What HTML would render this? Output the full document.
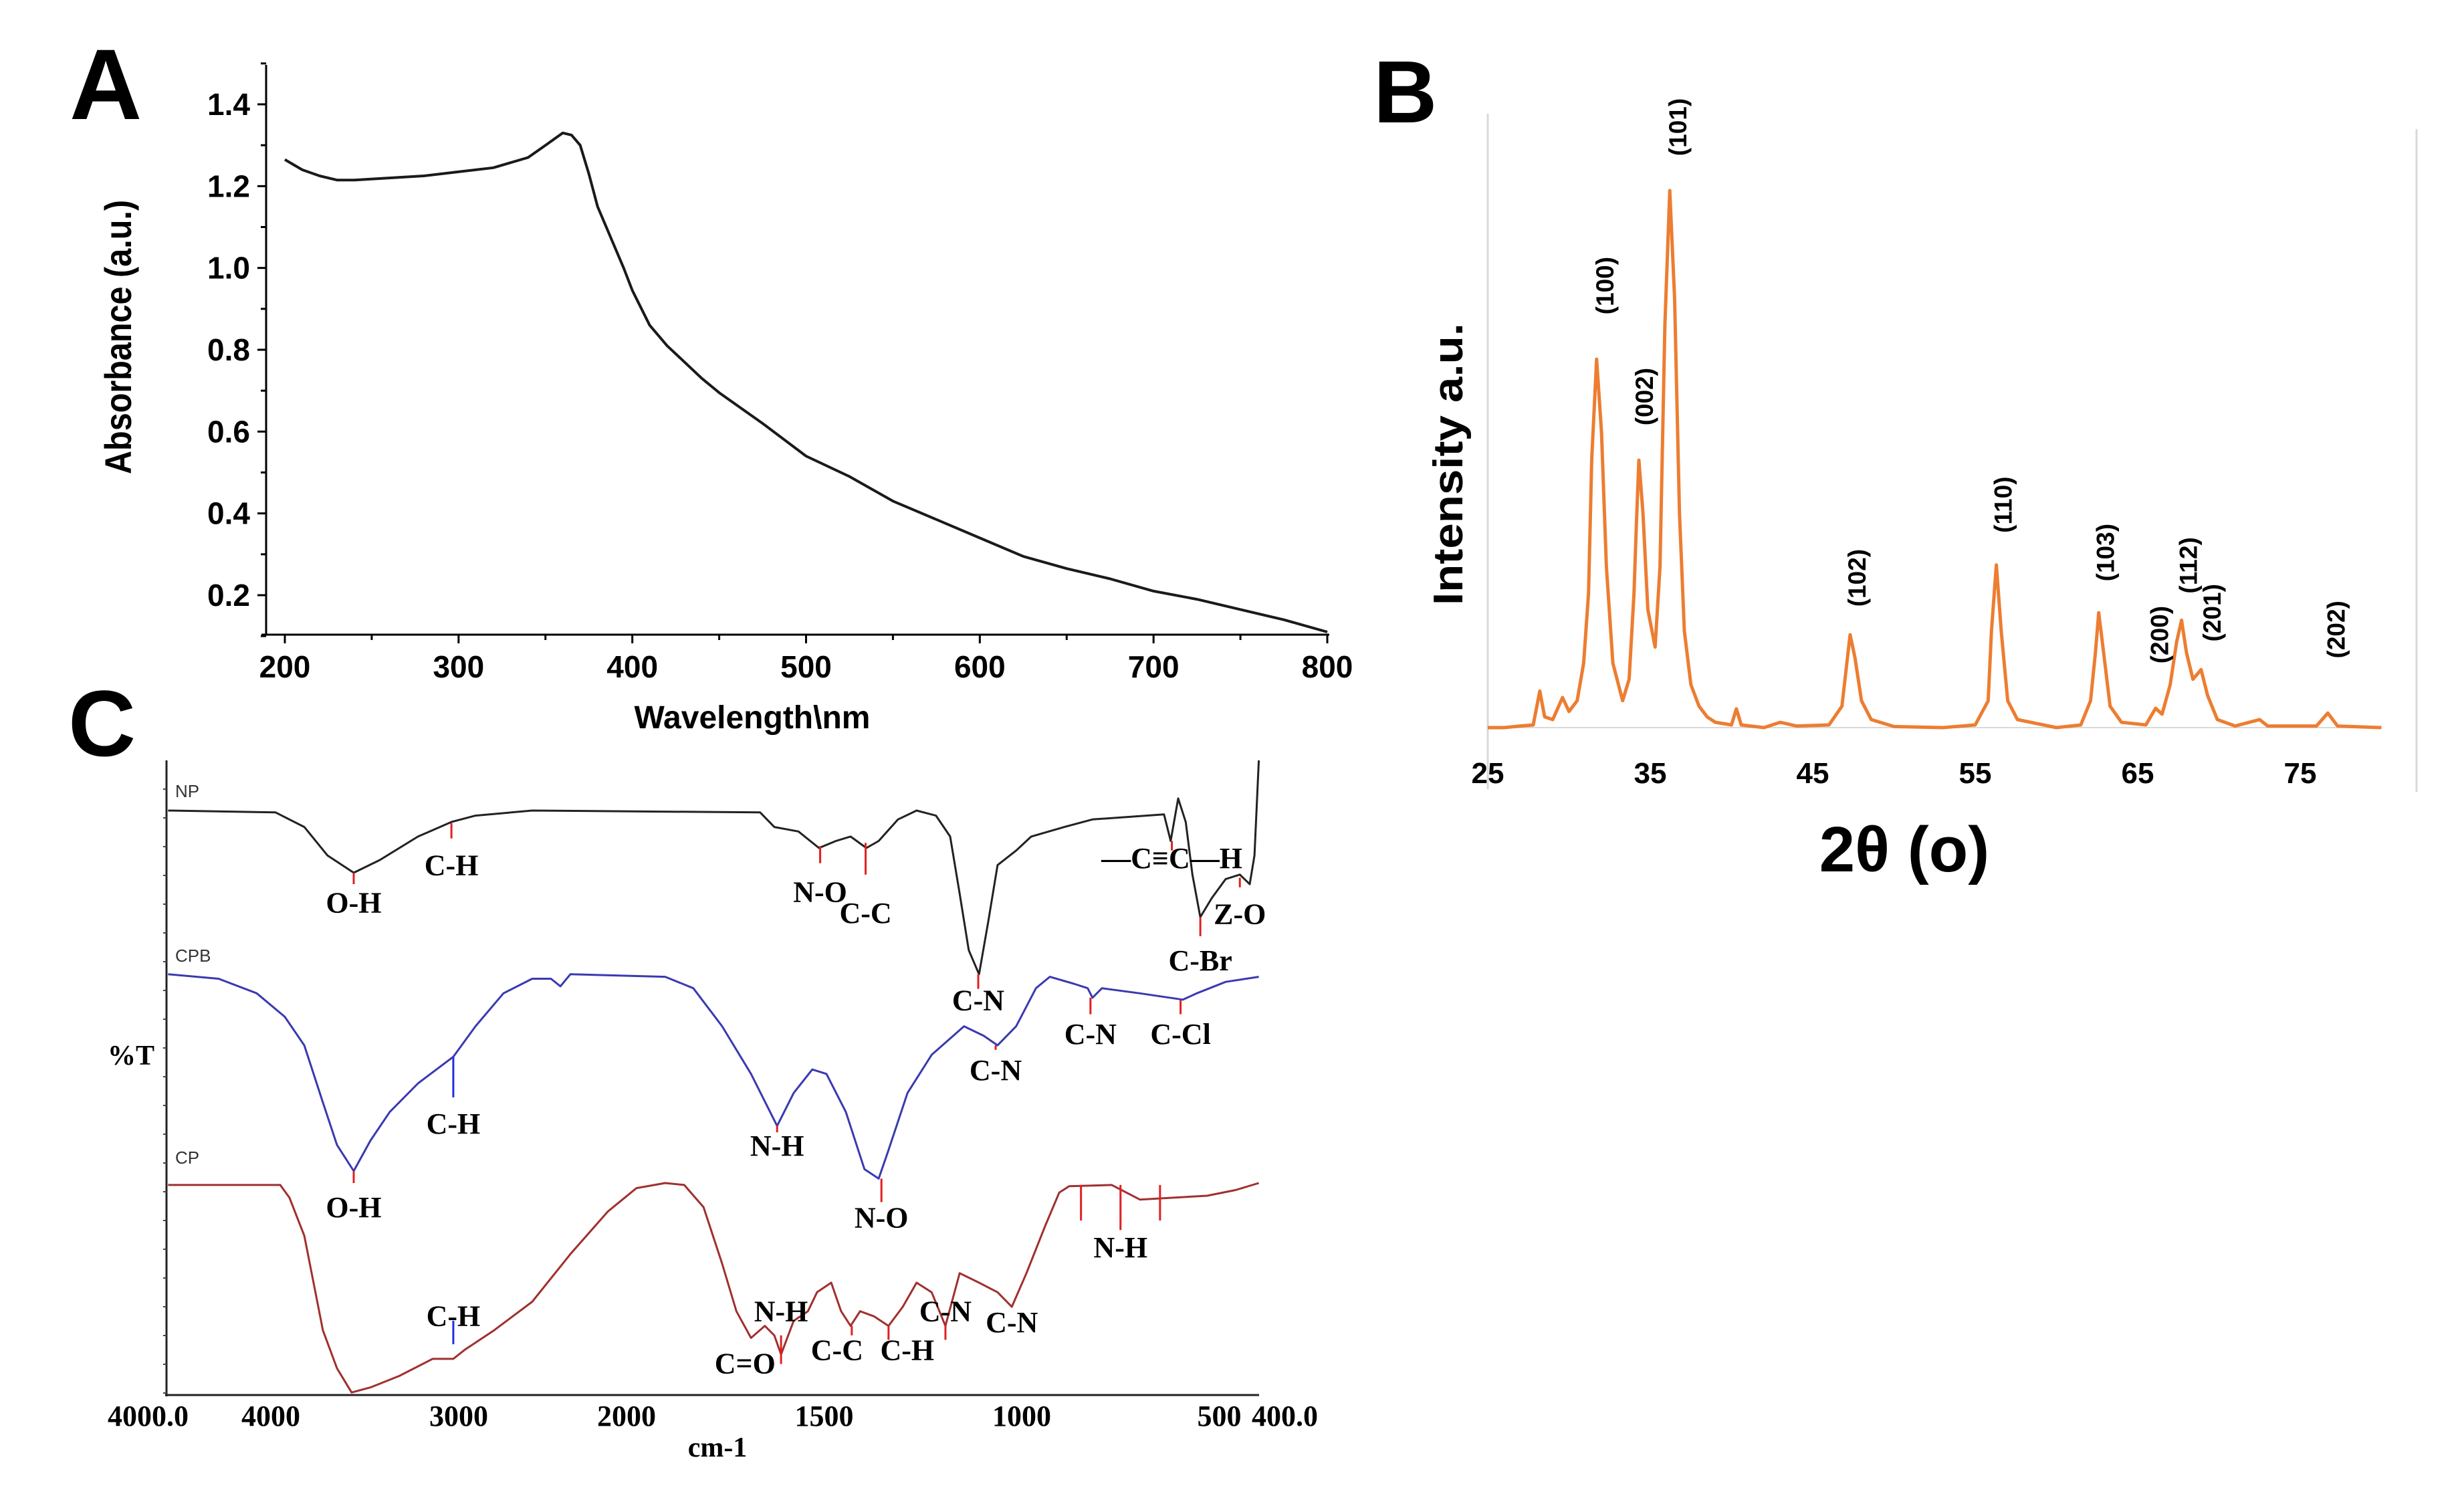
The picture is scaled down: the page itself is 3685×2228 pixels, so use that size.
<!DOCTYPE html>
<html><head><meta charset="utf-8"><style>
html,body{margin:0;padding:0;background:#fff;}
svg{display:block;}
text{font-family:"Liberation Sans",sans-serif;}
.serif{font-family:"Liberation Serif",serif;font-weight:bold;}
</style></head><body>
<svg id="fig" xmlns="http://www.w3.org/2000/svg" width="3685" height="2228" viewBox="0 0 3685 2228">
<rect width="3685" height="2228" fill="#fff"/>
<text x="104" y="178" font-size="150" font-weight="bold">A</text>
<text x="2054" y="183" font-size="132" font-weight="bold">B</text>
<text x="102" y="1130" font-size="140" font-weight="bold">C</text>
<g id="pa"></g>
<g id="pb"></g>
<g id="pc"></g>
</svg>
<script>
// ---------- Panel A data (UV-Vis) ----------
const uvWavelength=[200,210,220,230,240,260,280,300,320,340,350,355,360,365,370,375,380,385,390,395,400,410,420,430,440,450,475,500,525,550,575,600,625,650,675,700,725,750,775,800];
const uvAbsorbance=[1.265,1.24,1.225,1.215,1.215,1.22,1.225,1.235,1.245,1.27,1.3,1.315,1.33,1.325,1.3,1.23,1.15,1.1,1.05,1.0,0.945,0.86,0.81,0.77,0.73,0.695,0.62,0.54,0.49,0.43,0.385,0.34,0.295,0.265,0.24,0.21,0.19,0.165,0.14,0.11];
const uvXTicks=[200,300,400,500,600,700,800];
const uvYTicks=[0.2,0.4,0.6,0.8,1.0,1.2,1.4];

// ---------- Panel B data (XRD) ----------
const xrdTheta=[25,26,27,27.8,28.2,28.5,29,29.6,30,30.5,30.9,31.2,31.4,31.7,32.0,32.3,32.7,33.3,33.7,34.0,34.15,34.3,34.55,34.85,35.3,35.6,35.9,36.2,36.5,36.8,37.1,37.5,38,38.5,39,40,40.3,40.6,42,43,44,46,46.8,47.1,47.3,47.6,48.0,48.6,50,53,55,55.8,56.0,56.3,56.6,57.0,57.6,60,61.5,62.1,62.4,62.6,62.9,63.3,64.0,65.5,66.1,66.5,67.0,67.4,67.7,68.0,68.4,68.9,69.3,69.9,71,72.5,73,76,76.7,77.3,80];
const xrdIntensity=[0,0,0.3,0.5,6.8,2,1.5,5.6,3,5,12,25,50,68.6,55,30,12,5,9,25,38,49.8,40,22,15,30,75,100,80,40,18,8,4,2,1,0.5,3.5,0.5,0,1,0.3,0.5,4,12,17.3,13,5,1.5,0.2,0,0.5,5,18,30.3,18,5,1.5,0,0.5,5,14,21.4,14,4,1,0.5,3.6,2.5,8,16,20,14,9,10.8,6,1.5,0.3,1.5,0.3,0.3,2.7,0.3,0];
const xrdXTicks=[25,35,45,55,65,75];
const xrdPeakLabels=["(100)","(002)","(101)","(102)","(110)","(103)","(200)","(112)","(201)","(202)"];
const xrdPeakPos=[31.7,34.3,36.2,47.3,56.3,62.6,66.1,67.7,68.9,76.7];
const xrdPeakHeight=[68.6,49.8,100,17.3,30.3,21.4,3.6,20,10.8,2.7];

// ---------- Panel C data (FTIR) ----------
const npWavenumber=[4440,3868,3715,3591,3452,3313,3110,2932,2804,2502,1662,1626,1565,1513,1470,1433,1393,1362,1313,1266,1217,1181,1157,1134,1108,1085,1061,1014,976,892,821,640,623,604,585,568,548,519,484,448,423,411,400];
const npTransmittance=[92.1,91.8,89.5,85.0,82.3,84.3,88.0,90.3,91.3,92.1,91.8,89.5,88.8,86.2,87.3,88.0,86.2,87.3,90.7,92.1,91.3,88.0,79.0,70.1,66.3,74.5,83.5,85.8,88.0,89.5,90.7,91.5,87.3,94.0,90.3,82.0,75.3,78.3,81.3,82.0,80.5,85.0,100];
const cpbWavenumber=[4440,4171,3968,3819,3715,3616,3541,3452,3363,3260,3110,2922,2804,2655,2502,2402,2352,2299,1902,1831,1758,1685,1619,1577,1530,1494,1445,1398,1362,1337,1289,1228,1146,1096,1061,1014,964,929,868,833,821,797,701,592,557,484,400];
const cpbTransmittance=[66.3,65.6,63.3,59.6,55.1,46.1,39.4,35.3,40.1,44.6,49.1,53.3,58.1,63.3,65.6,65.6,64.4,66.3,65.9,64.1,58.1,50.6,42.4,47.6,51.3,50.6,44.6,35.6,34.1,38.6,47.6,53.6,58.1,56.6,55.1,58.1,64.1,65.9,64.8,64.1,62.6,64.1,63.3,62.3,63.3,65.1,65.9];
const cpWavenumber=[4440,3843,3794,3715,3616,3541,3463,3363,3210,3032,2922,2858,2705,2502,2299,2100,1975,1902,1854,1805,1758,1722,1685,1650,1626,1609,1577,1541,1518,1482,1457,1433,1409,1374,1337,1301,1266,1228,1193,1157,1108,1061,1025,988,941,905,880,772,701,531,459,400];
const cpTransmittance=[33.1,33.1,31.1,25.1,10.2,4.2,0.4,1.2,3.0,5.7,5.7,7.2,10.2,14.7,22.2,28.9,32.6,33.4,33.1,29.6,20.7,13.2,9.0,10.9,9.4,6.4,11.7,13.2,16.2,17.7,13.2,10.9,13.2,12.4,10.9,13.9,17.7,16.2,10.9,19.2,17.7,16.2,13.9,19.2,26.6,31.9,32.9,33.1,30.8,31.4,32.3,33.4];
const ftirTickLabels=["4000","3000","2000","1500","1000","500"];
const ftirTickValues=[4000,3000,2000,1500,1000,500];
// annotations
const annLabels=["O-H","C-H","N-O","C-C","C-N","\u2014C\u2261C\u2014H","C-Br","Z-O","O-H","C-H","N-H","N-O","C-N","C-N","C-Cl","C-H","C=O","N-H","C-C","C-H","C-N","C-N","N-H"];
const annWavenumber=[3452,2932,1510,1395,1110,620,548,448,3452,2922,1619,1355,1066,826,598,2922,1700,1609,1430,1337,1193,1025,750];
const annTop=[82.3,90.1,86.5,87.0,66.3,87.3,75.3,81.5,35.3,53.3,42.4,34.1,55.1,62.6,62.3,11.7,0,9.4,10.9,10.9,10.9,0,33.1];
const annBottom=[80.5,87.7,83.8,82.0,64.0,85.8,72.3,80.0,33.4,46.9,41.4,30.4,54.4,60.0,60.0,8.0,0,4.9,9.4,8.7,8.7,0,26.0];
const annTextV=[77.6,83.5,79.3,76.0,62.2,84.6,68.5,75.8,29.6,42.8,39.3,28.0,51.2,56.9,56.9,12.5,5.0,13.2,7.1,7.1,13.2,11.5,23.3];
const annColor=["r","r","r","r","r","r","r","r","r","b","r","r","r","r","r","b","n","r","r","r","r","n","r"];
const annDx=[0,0,0,0,0,0,0,0,0,0,0,0,0,0,0,0,0,0,-22,28,0,0,0];

const NS="http://www.w3.org/2000/svg";
function mk(parent,tag,attrs){const e=document.createElementNS(NS,tag);for(const k in attrs)e.setAttribute(k,attrs[k]);parent.appendChild(e);return e;}
function pathFrom(xs,ys,fx,fy){let d="";for(let i=0;i<xs.length;i++){d+=(i?"L":"M")+fx(xs[i]).toFixed(1)+","+fy(ys[i]).toFixed(1);}return d;}

// ===== Panel A =====
(function(){
const g=document.getElementById('pa');
const ax=v=>426+(v-200)*(1985-426)/600;
const ay=v=>890-(v-0.2)*(890-156)/1.2;
let e=mk(g,'line',{x1:398,y1:97,x2:398,y2:949,stroke:'#000','stroke-width':3});

e=mk(g,'line',{x1:391,y1:949,x2:1988,y2:949,stroke:'#000','stroke-width':3});

for(let v=200;v<=800;v+=50){const t=mk(g,'line',{x1:ax(v),y1:949,x2:ax(v),y2:949+(v%100?8:13),stroke:'#000','stroke-width':3});
}
for(let v=0.1;v<=1.501;v+=0.1){const t=mk(g,'line',{x1:398,y1:ay(v),x2:398-(Math.round(v*10)%2?8:13),y2:ay(v),stroke:'#000','stroke-width':3});
}
uvXTicks.forEach(v=>{const t=mk(g,'text',{x:ax(v),y:1013,'font-size':46,'font-weight':'bold','text-anchor':'middle'});t.textContent=v;
});
uvYTicks.forEach(v=>{const t=mk(g,'text',{x:374,y:ay(v)+16,'font-size':46,'font-weight':'bold','text-anchor':'end'});t.textContent=v.toFixed(1);
});
let t=mk(g,'text',{x:1125,y:1089,'font-size':48,'font-weight':'bold','text-anchor':'middle'});t.textContent='Wavelength\\nm';

t=mk(g,'text',{x:0,y:0,'font-size':56,'font-weight':'bold','text-anchor':'middle',transform:'translate(196,504) rotate(-90)',textLength:410,lengthAdjust:'spacingAndGlyphs'});t.textContent='Absorbance (a.u.)';

const p=mk(g,'path',{d:pathFrom(uvWavelength,uvAbsorbance,ax,ay),fill:'none',stroke:'#1a1a1a','stroke-width':4,'stroke-linejoin':'round'});

})();

// ===== Panel B =====
(function(){
const g=document.getElementById('pb');
const bx=v=>2225+(v-25)*24.3;
const by=v=>1088-v*8.03;
let e=mk(g,'line',{x1:2225,y1:170,x2:2225,y2:1180,stroke:'#d9d9d9','stroke-width':3});

e=mk(g,'line',{x1:3614,y1:193,x2:3614,y2:1184,stroke:'#d9d9d9','stroke-width':3});

e=mk(g,'line',{x1:2225,y1:1088,x2:3560,y2:1088,stroke:'#d9d9d9','stroke-width':2});

xrdXTicks.forEach(v=>{const t=mk(g,'text',{x:bx(v),y:1171,'font-size':44,'font-weight':'bold','text-anchor':'middle'});t.textContent=v;
});
let t=mk(g,'text',{x:0,y:0,'font-size':62,'font-weight':'bold','text-anchor':'middle',transform:'translate(2187,694) rotate(-90)',textLength:422,lengthAdjust:'spacingAndGlyphs'});t.textContent='Intensity a.u.';

t=mk(g,'text',{x:2848,y:1303,'font-size':96,'font-weight':'bold','text-anchor':'middle'});t.textContent='2\u03B8 (o)';

const p=mk(g,'path',{d:pathFrom(xrdTheta,xrdIntensity,bx,by),fill:'none',stroke:'#ED7D31','stroke-width':5,'stroke-linejoin':'round'});

const off=[110,95,95,85,90,90,90,82,85,95];
const dxs=[12,8,12,10,10,10,6,10,16,12];
xrdPeakLabels.forEach((s,i)=>{const cx=bx(xrdPeakPos[i])+dxs[i],cy=by(xrdPeakHeight[i])-off[i]-(i==6?20:0)-(i==9?30:0);
const l=mk(g,'text',{x:0,y:0,'font-size':37,'font-weight':'bold','text-anchor':'middle',transform:`translate(${cx+13},${cy}) rotate(-90)`});l.textContent=s;
});
})();

// ===== Panel C =====
(function(){
const g=document.getElementById('pc');
const cx=w=>w>=2000?937+(2000-w)*0.281:937+(2000-w)*0.591;
const cy=v=>2086-v*9.49;
let e=mk(g,'line',{x1:249,y1:1137,x2:249,y2:2088,stroke:'#222','stroke-width':3});

e=mk(g,'line',{x1:247,y1:2086,x2:1883,y2:2086,stroke:'#222','stroke-width':3});

for(let y=1180;y<2086;y+=43){const tk=mk(g,'line',{x1:244,y1:y,x2:249,y2:y,stroke:'#444','stroke-width':2});
}
let t=mk(g,'text',{x:282,y:2132,'font-size':44,'text-anchor':'end','class':'serif'});t.textContent='4000.0';

t=mk(g,'text',{x:1872,y:2132,'font-size':44,'text-anchor':'start','class':'serif'});t.textContent='400.0';

ftirTickLabels.forEach((s,i)=>{const l=mk(g,'text',{x:cx(ftirTickValues[i])+(i<2?30:0),y:2132,'font-size':44,'text-anchor':'middle','class':'serif'});l.textContent=s;
});
t=mk(g,'text',{x:1073,y:2178,'font-size':42,'text-anchor':'middle','class':'serif'});t.textContent='cm-1';

t=mk(g,'text',{x:196,y:1592,'font-size':42,'text-anchor':'middle','class':'serif'});t.textContent='%T';

[['NP',1192,'np-series-label'],['CPB',1438,'cpb-series-label'],['CP',1740,'cp-series-label']].forEach(a=>{const l=mk(g,'text',{x:262,y:a[1],'font-size':26,fill:'#333'});l.textContent=a[0];
});
let p=mk(g,'path',{d:pathFrom(npWavenumber,npTransmittance,cx,cy),fill:'none',stroke:'#222','stroke-width':3,'stroke-linejoin':'round'});

p=mk(g,'path',{d:pathFrom(cpbWavenumber,cpbTransmittance,cx,cy),fill:'none',stroke:'#3a3ab0','stroke-width':3,'stroke-linejoin':'round'});

p=mk(g,'path',{d:pathFrom(cpWavenumber,cpTransmittance,cx,cy),fill:'none',stroke:'#a0302f','stroke-width':3,'stroke-linejoin':'round'});

const cols={r:'#e02020',b:'#2030e0'};
annLabels.forEach((s,i)=>{
 if(annColor[i]!=='n'){const ln=mk(g,'line',{x1:cx(annWavenumber[i]),y1:cy(annTop[i]),x2:cx(annWavenumber[i]),y2:cy(annBottom[i]),stroke:cols[annColor[i]],'stroke-width':3});
 }
 const l=mk(g,'text',{x:cx(annWavenumber[i])+annDx[i],y:cy(annTextV[i])+15,'font-size':44,'text-anchor':'middle','class':'serif'});l.textContent=s;
 
});
[850,650].forEach(w=>{const ln=mk(g,'line',{x1:cx(w),y1:cy(33.1),x2:cx(w),y2:cy(27.5),stroke:'#e02020','stroke-width':3});
});
})();
</script>
</body></html>
